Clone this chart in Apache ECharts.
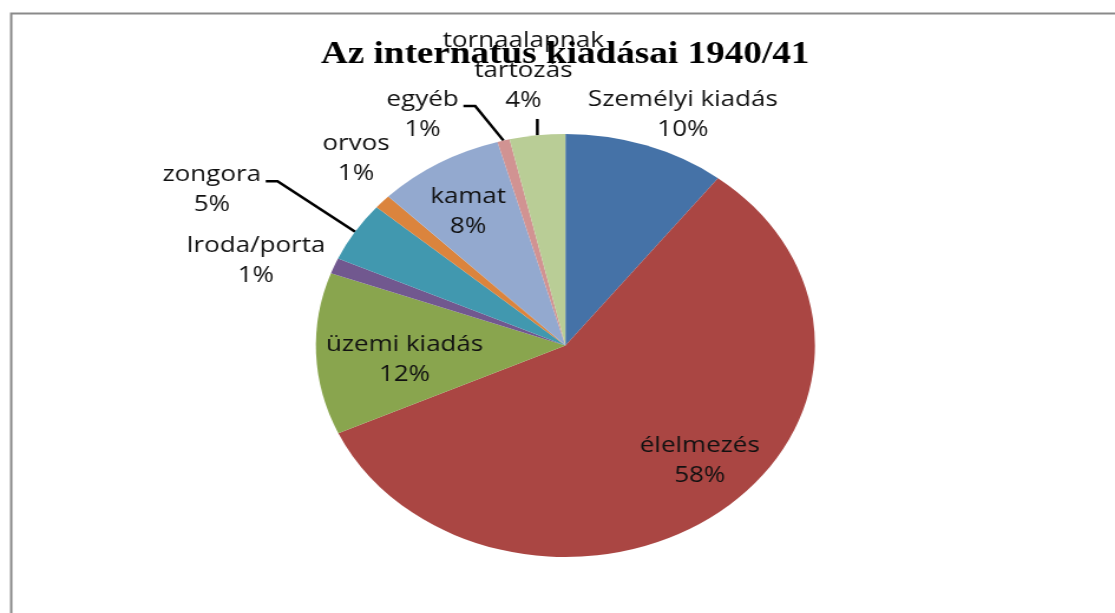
<!DOCTYPE html>
<html>
<head>
<meta charset="utf-8">
<script src="https://cdn.jsdelivr.net/npm/echarts@6/dist/echarts.min.js"></script>
<style>
  html, body { margin: 0; padding: 0; background: #fff; overflow: hidden; }
  /* the original picture is a stretched excel chart, so the whole canvas is stretched too */
  #mychart {
    width: 945px;
    height: 613px;
    transform: scaleX(1.1799);
    transform-origin: 0 0;
  }
</style>
</head>
<body>
<div id="mychart"></div>
<script>
// kategóriák (óramutató járása szerint, felülről)
const categories = ['Személyi kiadás', 'élelmezés', 'üzemi kiadás', 'Iroda/porta', 'zongora', 'orvos', 'kamat', 'egyéb', 'tornaalapnak\ntartozás']
// részesedés (%)
const shares = [10.5, 57.9, 12.4, 1.2, 4.6, 1.1, 8.2, 0.8, 3.6]
const colors = ['#4572A7', '#AA4643', '#89A54E', '#71588F', '#4198AF', '#DB843D', '#93A9CF', '#D19392', '#B9CD96']

// pie geometry (unscaled px)
const cx = 479.2, cy = 345.5, R = 211.5
// label placement: [radius factor, angle clockwise from top]
const labelPolar = [
  [1.19, 23.3], [0.767, 135.4], [0.648, 264.1], [1.304, 288.0], [1.596, 297.4],
  [1.219, 316.5], [0.744, 328.4], [1.231, 332.3], [1.309, 352.6]
]
// leader line kind: none / side (label left of slice) / below (label above slice)
const lineKind = ['none', 'none', 'none', 'none', 'side', 'none', 'none', 'side', 'below']

// mid angle of each slice, clockwise from top
const total = shares.reduce((a, b) => a + b, 0)
let acc = 0
const midAngles = shares.map(v => {
  const m = (acc + v / 2) / total * 360
  acc += v
  return m
})

function polar(k, deg) {
  const a = deg * Math.PI / 180
  return [cx + k * R * Math.sin(a), cy - k * R * Math.cos(a)]
}

let myEcharts = echarts.init(document.getElementById('mychart'))

let option = {
  animation: false,
  color: colors,
  title: {
    text: 'Az internatus kiadásai 1940/41',
    left: 267,
    top: 34,
    textStyle: {
      fontFamily: 'Liberation Serif',
      fontWeight: 'bold',
      fontSize: 31.5,
      color: '#000'
    }
  },
  graphic: [
    {
      type: 'rect',
      left: 7,
      top: 11,
      z: -10,
      shape: { width: 1200, height: 800 },
      style: { fill: 'none', stroke: '#8a8a8a', lineWidth: 2 }
    }
  ],
  series: [
    {
      type: 'pie',
      center: [cx, cy],
      radius: R,
      startAngle: 90,
      clockwise: true,
      avoidLabelOverlap: false,
      percentPrecision: 0,
      label: {
        show: true,
        position: 'outside',
        formatter: '{b}\n{d}%',
        fontFamily: 'Open Sans',
        fontSize: 22,
        lineHeight: 30,
        color: '#111',
        align: 'center'
      },
      labelLine: {
        show: true,
        length: 12,
        length2: 12,
        lineStyle: { color: '#000', width: 2.5 }
      },
      labelLayout: function (params) {
        const i = params.dataIndex
        const p = polar(labelPolar[i][0], labelPolar[i][1])
        const w = params.labelRect.width, h = params.labelRect.height
        const res = {
          x: p[0],
          y: p[1],
          align: 'center',
          verticalAlign: 'middle'
        }
        const rim = polar(1, midAngles[i])
        if (lineKind[i] === 'side') {
          const yl = p[1] - h / 2 + 21
          res.labelLinePoints = [rim, [p[0] + w / 2 + 14, yl], [p[0] + w / 2 + 4, yl]]
        } else if (lineKind[i] === 'below') {
          const top = [rim[0], p[1] + h / 2 + 3]
          res.labelLinePoints = [rim, top, top]
        }
        return res
      },
      data: categories.map((c, i) => ({
        name: c,
        value: shares[i],
        labelLine: { show: lineKind[i] !== 'none' }
      }))
    }
  ]
}

myEcharts.setOption(option)
</script>
</body>
</html>
